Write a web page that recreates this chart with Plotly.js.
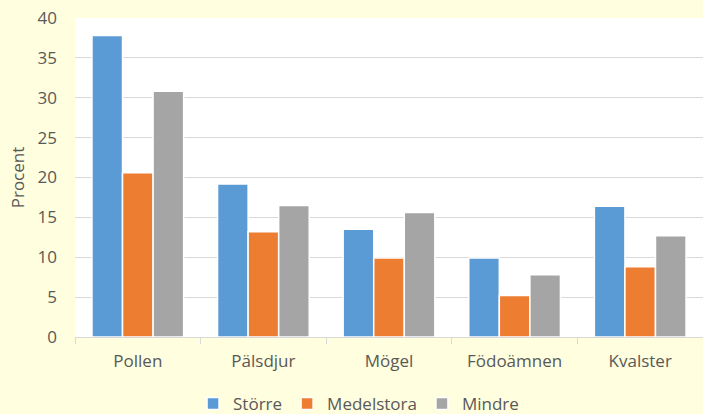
<!DOCTYPE html>
<html>
<head>
<meta charset="utf-8">
<script src="https://cdn.plot.ly/plotly-3.0.1.min.js"></script>
<style>html,body{margin:0;padding:0;background:#FFFEDE;}#chart{width:703px;height:414px;}</style>
</head>
<body>
<div id="chart"></div>
<script>
const categories = ["Pollen", "Pälsdjur", "Mögel", "Födoämnen", "Kvalster"];
const storre = [37.8, 19.2, 13.5, 9.9, 16.4];
const medelstora = [20.6, 13.2, 9.9, 5.2, 8.8];
const mindre = [30.8, 16.5, 15.6, 7.8, 12.7];
const seriesNames = ["Större", "Medelstora", "Mindre"];
const colors = ["#5B9BD5", "#ED7D31", "#A5A5A5"];

const font = "'Open Sans', 'Liberation Sans', sans-serif";
const data = [storre, medelstora, mindre].map((vals, i) => ({
  type: "bar",
  x: categories,
  y: vals,
  name: seriesNames[i],
  marker: {color: colors[i], line: {color: "#FFFFFF", width: 1.5}},
  hoverinfo: "x+y+name"
}));

const layout = {
  width: 703, height: 414,
  paper_bgcolor: "#FFFEDE",
  plot_bgcolor: "#FFFFFF",
  margin: {l: 75, r: 0, t: 18, b: 77, autoexpand: false},
  barmode: "group",
  bargap: 0.27,
  bargroupgap: 0,
  font: {family: font, color: "#595959", size: 17},
  xaxis: {
    type: "category",
    showgrid: false,
    showline: true,
    linecolor: "#D9D9D9",
    linewidth: 1,
    ticks: "outside",
    tickson: "boundaries",
    ticklen: 6,
    tickcolor: "#D9D9D9",
    ticklabelstandoff: 9,
    tickfont: {size: 17, color: "#595959"}
  },
  yaxis: {
    range: [0, 40],
    dtick: 5,
    showgrid: true,
    gridcolor: "#D9D9D9",
    gridwidth: 1,
    zeroline: false,
    showline: false,
    ticks: "",
    ticklabelstandoff: 17,
    tickfont: {size: 17, color: "#595959"},
    title: {text: "Procent", font: {size: 17, color: "#595959"}, standoff: 8}
  },
  legend: {
    orientation: "h",
    xref: "container", yref: "container",
    x: 0.51, xanchor: "center",
    y: 0.024, yanchor: "middle",
    font: {size: 17, color: "#595959"},
    bgcolor: "rgba(0,0,0,0)",
    itemwidth: 30
  },
  showlegend: true
};

Plotly.newPlot("chart", data, layout, {displayModeBar: false, staticPlot: true});
</script>
</body>
</html>
